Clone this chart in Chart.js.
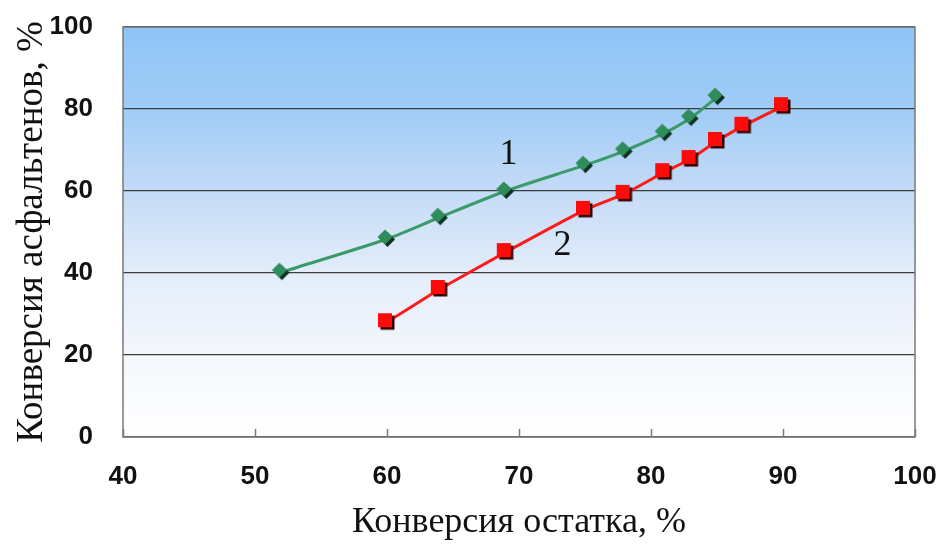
<!DOCTYPE html>
<html lang="ru">
<head>
    <meta charset="UTF-8">
    <title>Конверсия асфальтенов</title>
    <script src="https://cdn.jsdelivr.net/npm/chart.js"></script>
    <style>
        html, body { margin: 0; padding: 0; background: #ffffff; }
        #wrap { width: 943px; height: 544px; }
    </style>
</head>
<body>
    <div id="wrap"><canvas id="chart" width="943" height="544"></canvas></div>

    <script>
        // data
        const residueConv1 = [52, 60, 64, 69, 75, 78, 81, 83, 85];
        const asphConv1 = [40.2, 48.3, 53.6, 60, 66.3, 69.8, 74.1, 77.8, 82.9];
        const residueConv2 = [60, 64, 69, 75, 78, 81, 83, 85, 87, 90];
        const asphConv2 = [28, 36.1, 45.1, 55.4, 59.3, 64.6, 67.8, 72.2, 75.9, 80.7];
        const curveLabels = [
            { text: '1', x: 69.2, y: 68.8 },
            { text: '2', x: 73.3, y: 46.6 }
        ];

        function toPoints(xs, ys) {
            return xs.map((x, i) => ({ x: x, y: ys[i] }));
        }

        // marker with a dark drop shadow, drawn once on a small canvas
        function makeMarker(kind, fill) {
            const c = document.createElement('canvas');
            c.width = 22; c.height = 22;
            const g = c.getContext('2d');
            const shape = (dx, dy, col) => {
                g.fillStyle = col;
                g.beginPath();
                if (kind === 'diamond') {
                    g.moveTo(9 + dx, 1.5 + dy);
                    g.lineTo(16.5 + dx, 9 + dy);
                    g.lineTo(9 + dx, 16.5 + dy);
                    g.lineTo(1.5 + dx, 9 + dy);
                } else {
                    g.rect(2 + dx, 2 + dy, 14, 14);
                }
                g.closePath();
                g.fill();
            };
            shape(2.5, 2.5, kind === 'diamond' ? '#10301e' : '#3a0000');
            shape(0, 0, fill);
            return c;
        }
        const diamond = makeMarker('diamond', '#2f8d5c');
        const square = makeMarker('square', '#ff0a0a');

        const plotDecor = {
            id: 'plotDecor',
            beforeDraw(chart) {
                const { ctx, chartArea: a } = chart;
                const grad = ctx.createLinearGradient(0, a.top, 0, a.bottom);
                grad.addColorStop(0, '#8fc4f7');
                grad.addColorStop(0.2, '#a0ccf6');
                grad.addColorStop(0.4, '#c4dbf7');
                grad.addColorStop(0.6, '#e3edfa');
                grad.addColorStop(0.8, '#f4f7fc');
                grad.addColorStop(1, '#ffffff');
                ctx.save();
                ctx.fillStyle = grad;
                ctx.fillRect(a.left, a.top, a.right - a.left, a.bottom - a.top);
                ctx.restore();
            },
            afterDatasetsDraw(chart) {
                const { ctx, chartArea: a, scales } = chart;
                ctx.save();
                ctx.strokeStyle = '#7a7a7a';
                ctx.lineWidth = 1.5;
                ctx.strokeRect(a.left, a.top, a.right - a.left, a.bottom - a.top);
                // small inner ticks on the x axis
                scales.x.ticks.forEach(t => {
                    const px = Math.round(scales.x.getPixelForValue(t.value)) + 0.5;
                    ctx.beginPath();
                    ctx.moveTo(px, a.bottom);
                    ctx.lineTo(px, a.bottom - 8);
                    ctx.stroke();
                });
                ctx.fillStyle = '#111111';
                ctx.font = '36px "Liberation Serif", "Times New Roman", serif';
                ctx.textAlign = 'center';
                ctx.textBaseline = 'middle';
                curveLabels.forEach(l => {
                    ctx.fillText(l.text, scales.x.getPixelForValue(l.x), scales.y.getPixelForValue(l.y));
                });
                ctx.restore();
            }
        };

        const tickFont = { family: '"Liberation Sans", Arial, sans-serif', size: 26, weight: 'bold' };
        const xTitleFont = { family: '"Liberation Serif", "Times New Roman", serif', size: 36 };
        const yTitleFont = { family: '"Liberation Serif", "Times New Roman", serif', size: 37 };

        new Chart(document.getElementById('chart'), {
            type: 'scatter',
            data: {
                datasets: [
                    {
                        label: '1',
                        data: toPoints(residueConv1, asphConv1),
                        showLine: true,
                        borderColor: '#3a9a68',
                        borderWidth: 3,
                        pointStyle: diamond,
                        pointRadius: 9,
                        tension: 0.25
                    },
                    {
                        label: '2',
                        data: toPoints(residueConv2, asphConv2),
                        showLine: true,
                        borderColor: '#ff1a1a',
                        borderWidth: 3,
                        pointStyle: square,
                        pointRadius: 9,
                        tension: 0.1
                    }
                ]
            },
            options: {
                responsive: false,
                animation: false,
                layout: { padding: { top: 27, right: 28, left: 0, bottom: 0 } },
                plugins: {
                    legend: { display: false },
                    tooltip: { enabled: false }
                },
                scales: {
                    x: {
                        type: 'linear',
                        min: 40,
                        max: 100,
                        ticks: { stepSize: 10, color: '#111111', font: tickFont, padding: 24 },
                        grid: { display: false, drawTicks: false },
                        border: { display: false },
                        title: { display: true, text: 'Конверсия остатка, %', color: '#111111', font: xTitleFont, padding: { top: 4, bottom: 0 } },
                        afterFit(scale) {
                            scale.height = 107;
                            scale.paddingLeft = 0;
                            scale.paddingRight = 0;
                        }
                    },
                    y: {
                        min: 0,
                        max: 100,
                        ticks: { stepSize: 20, color: '#111111', font: tickFont, padding: 30 },
                        grid: { color: '#3c3c3c', lineWidth: 1.3, drawTicks: false },
                        border: { display: false },
                        title: { display: true, text: 'Конверсия асфальтенов, %', color: '#111111', font: yTitleFont, padding: { top: 10, bottom: 0 } },
                        afterFit(scale) {
                            scale.width = 123;
                            scale.paddingTop = 0;
                            scale.paddingBottom = 0;
                        }
                    }
                }
            },
            plugins: [plotDecor]
        });
    </script>
</body>
</html>
